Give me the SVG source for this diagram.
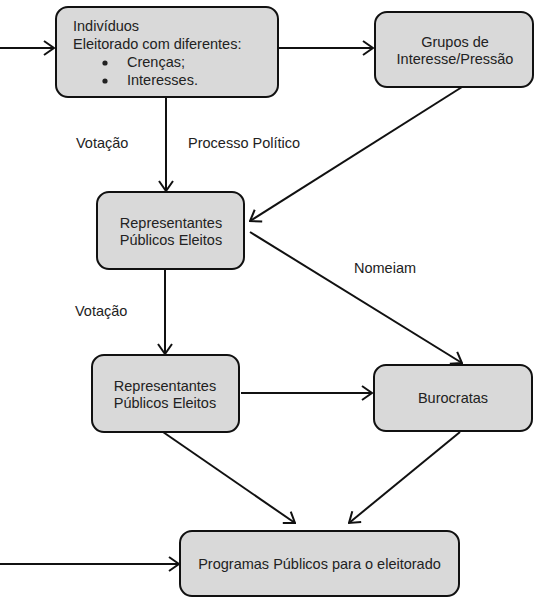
<svg xmlns="http://www.w3.org/2000/svg" width="540" height="612" viewBox="0 0 540 612">
<style>
.box{fill:#d9d9d9;stroke:#111;stroke-width:2}
.t{font-family:"Liberation Sans",Arial,sans-serif;font-size:14.5px;fill:#222}
.c{text-anchor:middle}
.ln{stroke:#111;stroke-width:2;fill:none;marker-end:url(#ah)}
</style>
<defs>
<marker id="ah" markerUnits="userSpaceOnUse" viewBox="0 0 12 16" refX="11" refY="8" markerWidth="12" markerHeight="16" orient="auto">
<path d="M1,1 L11,8 L1,15" fill="none" stroke="#111" stroke-width="2"/>
</marker>
</defs>
<rect width="540" height="612" fill="#fff"/>
<g id="connectors">
<line class="ln" x1="0" y1="48" x2="54" y2="48"/>
<line class="ln" x1="278" y1="48" x2="373" y2="48"/>
<line class="ln" x1="166" y1="97" x2="166" y2="191"/>
<line class="ln" x1="462" y1="87" x2="250" y2="221"/>
<line class="ln" x1="250" y1="232" x2="462" y2="363"/>
<line class="ln" x1="165" y1="269" x2="165" y2="354"/>
<line class="ln" x1="241" y1="393" x2="372" y2="393"/>
<line class="ln" x1="163" y1="432" x2="295" y2="523"/>
<line class="ln" x1="460" y1="432" x2="349" y2="523"/>
<line class="ln" x1="0" y1="564" x2="179" y2="564"/>
</g>
<g id="labels">
<text class="t" x="76" y="148">Votação</text>
<text class="t" x="188" y="148">Processo Político</text>
<text class="t" x="354" y="273">Nomeiam</text>
<text class="t" x="75" y="316">Votação</text>
</g>
<g id="n1">
<rect class="box" x="56" y="7" width="222" height="90" rx="12"/>
<text class="t" x="73" y="31">Indivíduos</text>
<text class="t" x="73" y="49">Eleitorado com diferentes:</text>
<circle cx="105" cy="63" r="2.6" fill="#222"/>
<text class="t" x="127" y="67">Crenças;</text>
<circle cx="105" cy="81" r="2.6" fill="#222"/>
<text class="t" x="127" y="85">Interesses.</text>
</g>
<g id="n2">
<rect class="box" x="375" y="12" width="158" height="75" rx="12"/>
<text class="t c" x="455" y="47">Grupos de</text>
<text class="t c" x="455" y="64">Interesse/Pressão</text>
</g>
<g id="n3">
<rect class="box" x="97" y="192" width="147" height="77" rx="12"/>
<text class="t c" x="171" y="228">Representantes</text>
<text class="t c" x="171" y="245">Públicos Eleitos</text>
</g>
<g id="n4">
<rect class="box" x="92" y="355" width="147" height="77" rx="12"/>
<text class="t c" x="165" y="391">Representantes</text>
<text class="t c" x="165" y="408">Públicos Eleitos</text>
</g>
<g id="n5">
<rect class="box" x="374" y="365" width="158" height="66" rx="12"/>
<text class="t c" x="453" y="403">Burocratas</text>
</g>
<g id="n6">
<rect class="box" x="180" y="531" width="279" height="65" rx="12"/>
<text class="t c" x="319.5" y="569">Programas Públicos para o eleitorado</text>
</g>
</svg>
